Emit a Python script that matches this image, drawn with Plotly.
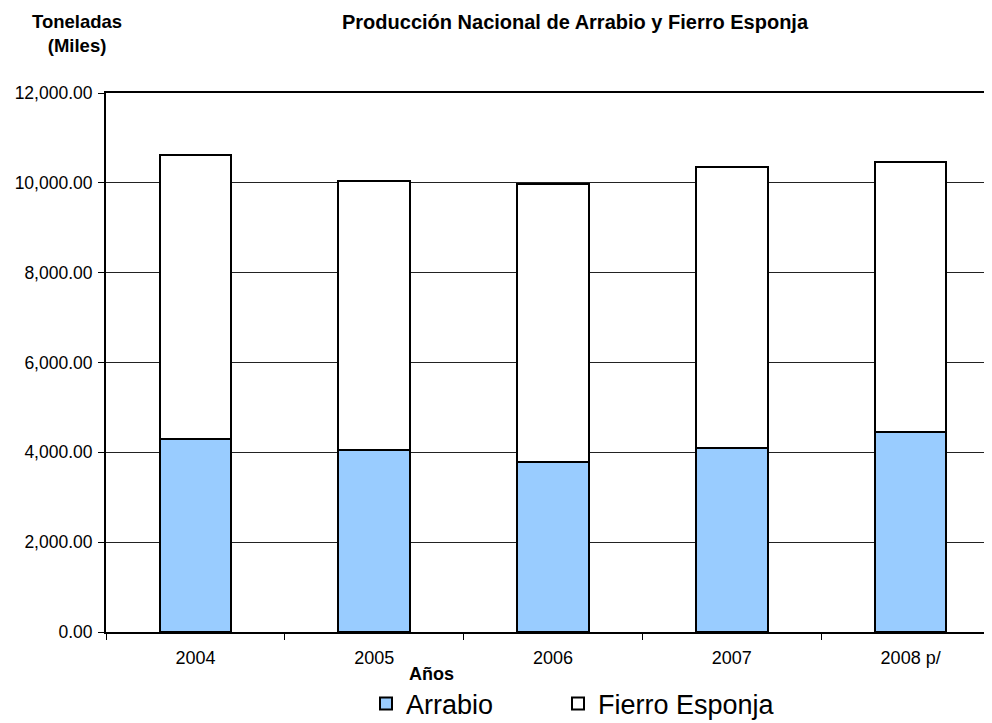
import plotly.graph_objects as go

years = ["2004", "2005", "2006", "2007", "2008 p/"]
arrabio = [4290, 4060, 3790, 4090, 4450]
fierro_esponja = [6340, 5970, 6180, 6260, 6010]

FONT = "Liberation Sans, Arial, sans-serif"
OFF = 8  # default body margin of the html page
W, H = 992 - OFF, 723 - OFF
L, R, T = 106 - OFF, 0, 93 - OFF
PH = 632 - 93
B = H - T - PH
pw = W - L - R

def px(x):
    return (x - 106) / pw

def py(y):
    return (632 - y) / PH

def cx(x):
    return (x - OFF) / W

def cy(y):
    return (723 - y) / H

fig = go.Figure()
fig.add_trace(go.Bar(
    x=years, y=arrabio, name="Arrabio", width=0.4, legend="legend",
    marker=dict(color="#99CCFF", line=dict(color="black", width=2)),
))
fig.add_trace(go.Bar(
    x=years, y=fierro_esponja, name="Fierro Esponja", width=0.4, legend="legend2",
    marker=dict(color="white", line=dict(color="black", width=2)),
))

leg_common = dict(
    orientation="h", xanchor="left", xref="container", yref="container",
    y=cy(704), yanchor="middle", font=dict(size=27, family=FONT),
    itemwidth=30, bgcolor="rgba(0,0,0,0)", borderwidth=0,
)

fig.update_layout(
    width=W, height=H,
    margin=dict(l=L, r=R, t=T, b=B, pad=0, autoexpand=False),
    barmode="stack",
    plot_bgcolor="white", paper_bgcolor="white",
    font=dict(family=FONT, color="black", size=18),
    showlegend=True,
    legend=dict(x=cx(366), **leg_common),
    legend2=dict(x=cx(558), **leg_common),
    xaxis=dict(
        type="category", range=[-0.5, 4.455],
        showline=True, linecolor="black", linewidth=2, mirror=True,
        ticks="outside", tickson="boundaries", ticklen=6, tickcolor="black", tickwidth=1,
        showgrid=False, ticklabelstandoff=8,
        tickfont=dict(size=18, family=FONT),
    ),
    yaxis=dict(
        range=[0, 12000], dtick=2000, tickformat=",.2f",
        showline=True, linecolor="black", linewidth=2,
        ticks="outside", ticklen=6, tickcolor="black", tickwidth=1,
        showgrid=True, gridcolor="#222222", gridwidth=1,
        zeroline=False, ticklabelstandoff=2,
        tickfont=dict(size=17.5, family=FONT),
    ),
    annotations=[
        dict(text="<b>Producción Nacional de Arrabio y Fierro Esponja</b>",
             xref="paper", yref="paper", x=px(575), y=py(22),
             xanchor="center", yanchor="middle", showarrow=False,
             font=dict(size=20, family=FONT)),
        dict(text="<b>Toneladas<br>(Miles)</b>",
             xref="paper", yref="paper", x=px(77), y=py(34),
             xanchor="center", yanchor="middle", showarrow=False,
             font=dict(size=18.5, family=FONT)),
        dict(text="<b>Años</b>",
             xref="paper", yref="paper", x=px(431), y=py(674),
             xanchor="center", yanchor="middle", showarrow=False,
             font=dict(size=18, family=FONT)),
    ],
)

fig.write_html("out.html")
